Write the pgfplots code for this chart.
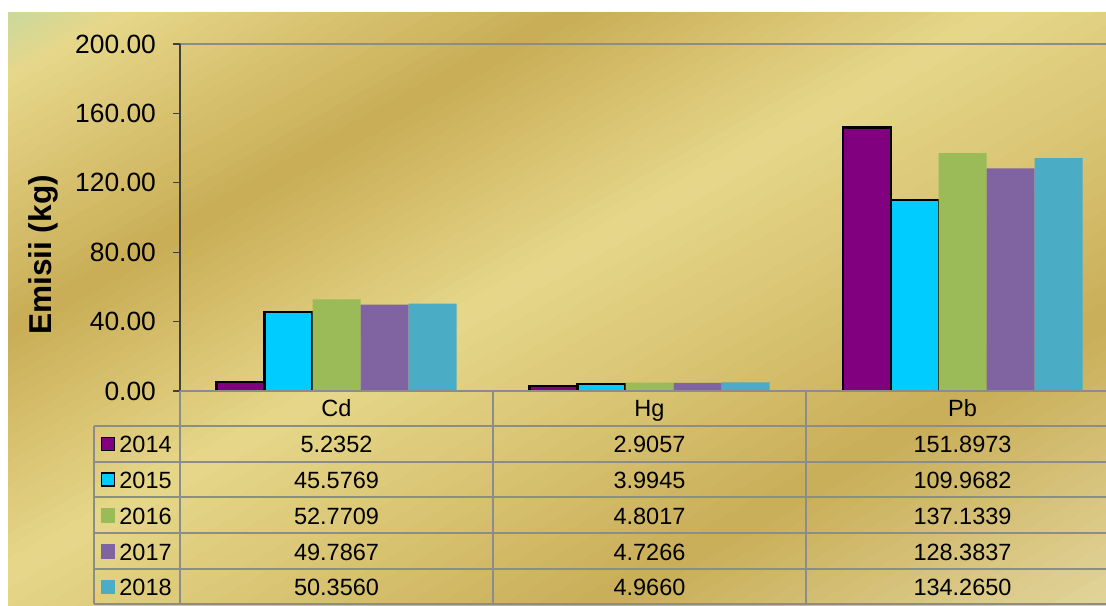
\documentclass[border=0pt]{standalone}
\usepackage{pgfplots}
\pgfplotsset{compat=1.18}
\usepackage{pgfplotstable}
\usepackage{fontspec}
\setmainfont{Liberation Sans}

\definecolor{c2014}{HTML}{800080}
\definecolor{c2015}{HTML}{00CCFF}
\definecolor{c2016}{HTML}{9BBB59}
\definecolor{c2017}{HTML}{8064A2}
\definecolor{c2018}{HTML}{4BACC6}
\definecolor{g0}{HTML}{C3D9A2}
\definecolor{g1}{HTML}{E6D78A}
\definecolor{g2}{HTML}{C9AD56}
\definecolor{g3}{HTML}{E6D78A}
\definecolor{g4}{HTML}{C9AE58}
\definecolor{g5}{HTML}{E3D69E}
\definecolor{gridc}{HTML}{8C8C8C}

% emissions in kg, rows = pollutant, columns = year
\pgfplotstableread{
cat y2014 y2015 y2016 y2017 y2018
Cd 5.2352 45.5769 52.7709 49.7867 50.3560
Hg 2.9057 3.9945 4.8017 4.7266 4.9660
Pb 151.8973 109.9682 137.1339 128.3837 134.2650
}\emisii

\begin{document}
\begin{tikzpicture}
% background (pixel units, y down)
\begin{scope}[x=0.5pt, y=-0.5pt, shift={(0pt,302.5pt)}]
  \fill[white] (0,0) rectangle (1106,605);
  \clip (8,13) rectangle (1106,605);
  \foreach \ta/\tb/\ca/\cb in {0/70/g0/g1, 70/290/g1/g2, 290/500/g2/g3, 500/820/g3/g4, 820/1080/g4/g5}{
    \foreach \i in {0,...,19}{
      \pgfmathsetmacro\tl{\ta+(\tb-\ta)*\i/20}
      \pgfmathsetmacro\tr{\ta+(\tb-\ta)*(\i+1)/20+1}
      \pgfmathtruncatemacro\pp{100-5*\i-2}
      \fill[\ca!\pp!\cb] (-100,{(\tl+49)/0.87}) -- (1300,{(\tl-637)/0.87})
        -- (1300,{(\tr-637)/0.87}) -- (-100,{(\tr+49)/0.87}) -- cycle;
    }
  }
\end{scope}

\begin{axis}[
  at={(90pt,107pt)}, anchor=south west,
  scale only axis, width=463pt, height=173.5pt,
  xmin=-0.5, xmax=2.458, ymin=0, ymax=200,
  enlargelimits=false,
  ybar=0pt, bar width=24pt,
  xtick=\empty,
  ytick={0,40,...,200},
  tick align=outside, major tick length=3.5pt,
  y tick style={draw=black!75, line width=0.6pt},
  yticklabel style={font=\fontsize{13.2}{15}\selectfont, xshift=-5pt},
  /pgf/number format/.cd, fixed, fixed zerofill, precision=2, assume math mode=true,
  /pgfplots/.cd,
  axis line style={draw=none},
  clip=false,
]
\addplot[fill=c2014, draw=black, line width=1.1pt] table[x expr=\coordindex, y=y2014] {\emisii};
\addplot[fill=c2015, draw=black, line width=1.1pt] table[x expr=\coordindex, y=y2015] {\emisii};
\addplot[fill=c2016, draw=none] table[x expr=\coordindex, y=y2016] {\emisii};
\addplot[fill=c2017, draw=none] table[x expr=\coordindex, y=y2017] {\emisii};
\addplot[fill=c2018, draw=none] table[x expr=\coordindex, y=y2018] {\emisii};
\end{axis}

% frame, data table, label (pixel units, y down)
\begin{scope}[x=0.5pt, y=-0.5pt, shift={(0pt,302.5pt)}]
  \draw[gridc, line width=1.2pt] (180,44) -- (1106,44);
  \draw[black!75, line width=0.6pt] (180,44) -- (180,391);
  \draw[gridc, line width=1pt] (180,391) -- (1106,391);
  \foreach \yy in {425.7,461.7,497.3,533.3,569.3,604}
    \draw[gridc, line width=1pt] (94,\yy) -- (1106,\yy);
  \draw[gridc, line width=1pt] (94,425.7) -- (94,604);
  \foreach \xx in {180,493,806}
    \draw[gridc, line width=1pt] (\xx,391) -- (\xx,604);

  \node[rotate=90, font=\bfseries\fontsize{15.8}{18}\selectfont] at (43,255) {Emisii (kg)};

  \begin{scope}[every node/.style={inner sep=0, font=\fontsize{11.75}{14}\selectfont}]
  \foreach \c/\cx in {Cd/336.5, Hg/649.5, Pb/962.5}
    \node[anchor=base] at (\cx,416.8) {\c};
  \foreach \yr/\cc/\bd/\by in {2014/c2014/black/452.5, 2015/c2015/black/488.3,
      2016/c2016/c2016/524.1, 2017/c2017/c2017/560.1, 2018/c2018/c2018/595.5}{
    \filldraw[fill=\cc, draw=\bd, line width=0.9pt] (101.5,\by-15) rectangle (114.5,\by-2);
    \node[anchor=base west] at (119,\by) {\yr};
    \foreach \r/\cx in {0/336.5, 1/649.5, 2/962.5}{
      \pgfplotstablegetelem{\r}{y\yr}\of\emisii
      \node[anchor=base] at (\cx,\by) {\pgfplotsretval};
    }
  }
  \end{scope}
\end{scope}

\pgfresetboundingbox
\path[use as bounding box] (0,0) rectangle (553pt,302.5pt);
\end{tikzpicture}
\end{document}
